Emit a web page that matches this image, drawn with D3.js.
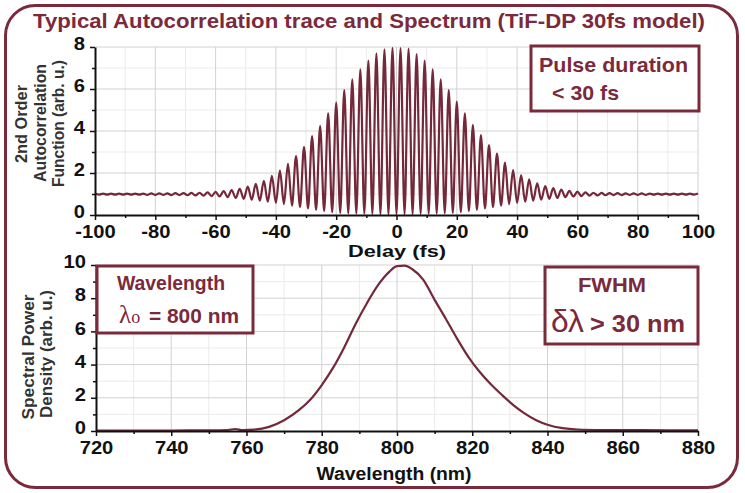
<!DOCTYPE html>
<html>
<head>
<meta charset="utf-8">
<script src="https://cdn.jsdelivr.net/npm/d3@7"></script>
<style>
  body { margin: 0; background: #fff; }
  text { font-family: "Liberation Sans", Arial, sans-serif; }
</style>
</head>
<body>
<div id="chart"></div>
<script>
// Autocorrelation trace: delay (fs) of each fringe peak / trough
var delay = [
  -100.0, -98.67, -97.33, -96.0, -94.67, -93.33, -92.0, -90.67, -89.33, -88.0,
  -86.67, -85.33, -84.0, -82.67, -81.33, -80.0, -78.67, -77.33, -76.0, -74.67,
  -73.33, -72.0, -70.67, -69.33, -68.0, -66.67, -65.33, -64.0, -62.67, -61.33,
  -60.0, -58.67, -57.33, -56.0, -54.67, -53.33, -52.0, -50.67, -49.33, -48.0,
  -46.67, -45.33, -44.0, -42.67, -41.33, -40.0, -38.67, -37.33, -36.0, -34.67,
  -33.33, -32.0, -30.67, -29.33, -28.0, -26.67, -25.33, -24.0, -22.67, -21.33,
  -20.0, -18.67, -17.33, -16.0, -14.67, -13.33, -12.0, -10.67, -9.33, -8.0,
  -6.67, -5.33, -4.0, -2.67, -1.33, 0.0, 1.33, 2.67, 4.0, 5.33,
  6.67, 8.0, 9.33, 10.67, 12.0, 13.33, 14.67, 16.0, 17.33, 18.67,
  20.0, 21.33, 22.67, 24.0, 25.33, 26.67, 28.0, 29.33, 30.67, 32.0,
  33.33, 34.67, 36.0, 37.33, 38.67, 40.0, 41.33, 42.67, 44.0, 45.33,
  46.67, 48.0, 49.33, 50.67, 52.0, 53.33, 54.67, 56.0, 57.33, 58.67,
  60.0, 61.33, 62.67, 64.0, 65.33, 66.67, 68.0, 69.33, 70.67, 72.0,
  73.33, 74.67, 76.0, 77.33, 78.67, 80.0, 81.33, 82.67, 84.0, 85.33,
  86.67, 88.0, 89.33, 90.67, 92.0, 93.33, 94.67, 96.0, 97.33, 98.67,
  100.0
];
var acf = [
  1.02, 0.97, 1.02, 0.97, 1.02, 0.97, 1.02, 0.97, 1.02, 0.97,
  1.02, 0.97, 1.02, 0.96, 1.03, 0.96, 1.03, 0.96, 1.03, 0.95,
  1.04, 0.95, 1.04, 0.94, 1.05, 0.93, 1.06, 0.92, 1.08, 0.90,
  1.10, 0.88, 1.14, 0.85, 1.19, 0.81, 1.25, 0.77, 1.35, 0.73,
  1.48, 0.68, 1.63, 0.63, 1.86, 0.58, 2.11, 0.52, 2.43, 0.45,
  2.81, 0.38, 3.25, 0.31, 3.76, 0.24, 4.24, 0.18, 4.84, 0.13,
  5.35, 0.10, 5.95, 0.08, 6.46, 0.07, 6.94, 0.06, 7.35, 0.05,
  7.70, 0.04, 7.89, 0.04, 7.96, 0.04, 7.95, 0.04, 7.92, 0.04,
  7.66, 0.05, 7.35, 0.06, 6.94, 0.07, 6.46, 0.08, 5.95, 0.10,
  5.40, 0.13, 4.84, 0.18, 4.29, 0.24, 3.81, 0.31, 3.33, 0.38,
  2.92, 0.45, 2.49, 0.52, 2.14, 0.58, 1.90, 0.63, 1.70, 0.68,
  1.51, 0.73, 1.38, 0.77, 1.28, 0.81, 1.21, 0.85, 1.15, 0.88,
  1.11, 0.90, 1.08, 0.92, 1.06, 0.93, 1.05, 0.94, 1.04, 0.95,
  1.04, 0.95, 1.03, 0.96, 1.03, 0.96, 1.03, 0.96, 1.02, 0.97,
  1.02, 0.97, 1.02, 0.97, 1.02, 0.97, 1.02, 0.97, 1.02, 0.97,
  1.02
];

// Spectrum
var wavelength = [720, 730, 740, 750, 755, 757, 759, 762, 766, 770, 774, 777, 780, 783, 786, 789, 792, 795, 798, 800,
  802, 804, 807, 810, 813, 816, 819, 822, 825, 828, 831, 834, 837, 840, 844, 848, 855, 865, 880];
var spectrum = [0.02, 0.02, 0.03, 0.04, 0.06, 0.12, 0.05, 0.08, 0.25, 0.65, 1.27, 1.90, 2.77, 3.80, 5.05, 6.45, 7.70, 8.80, 9.60, 9.93,
  9.96, 9.76, 9.10, 7.90, 6.75, 5.55, 4.45, 3.55, 2.80, 2.15, 1.55, 1.05, 0.65, 0.38, 0.17, 0.09, 0.06, 0.05, 0.04];

var delayTicks = [-100, -80, -60, -40, -20, 0, 20, 40, 60, 80, 100];
var delayMinor = [-90, -70, -50, -30, -10, 10, 30, 50, 70, 90];
var acfTicks = [0, 2, 4, 6, 8];
var acfMinor = [1, 3, 5, 7];
var wlTicks = [720, 740, 760, 780, 800, 820, 840, 860, 880];
var wlMinor = [730, 750, 770, 790, 810, 830, 850, 870];
var specTicks = [0, 2, 4, 6, 8, 10];
var specMinor = [1, 3, 5, 7, 9];

var W = 745, H = 493;
var maroon = "#7a2a3b";
var lineColor = "#74283a";

var svg = d3.select("#chart").append("svg")
    .attr("width", W)
    .attr("height", H);

// outer rounded frame
svg.append("rect")
    .attr("x", 5.5).attr("y", 5.5)
    .attr("width", 732).attr("height", 482)
    .attr("rx", 30).attr("ry", 30)
    .attr("fill", "#fff")
    .attr("stroke", maroon)
    .attr("stroke-width", 3);

svg.append("text")
    .attr("x", 369).attr("y", 28)
    .attr("text-anchor", "middle")
    .attr("font-size", 21).attr("font-weight", "bold")
    .attr("fill", maroon)
    .attr("textLength", 672).attr("lengthAdjust", "spacingAndGlyphs")
    .text("Typical Autocorrelation trace and Spectrum (TiF-DP 30fs model)");

// stretch tick labels a little wider, like the reference
function widen(sel, f) {
    sel.each(function () {
        this.setAttribute("textLength", this.getComputedTextLength() * f);
        this.setAttribute("lengthAdjust", "spacingAndGlyphs");
    });
}

function panel(x, y, xMajor, xMinorT, yMajor, yMinorT) {
    var g = svg.append("g");
    var x0 = x.range()[0], x1 = x.range()[1];
    var y0 = y.range()[0], y1 = y.range()[1];

    // grid
    g.selectAll(".gxm").data(xMinorT).enter().append("line")
        .attr("x1", d => x(d)).attr("x2", d => x(d))
        .attr("y1", y0).attr("y2", y1)
        .attr("stroke", "#ebebeb").attr("stroke-width", 1);
    g.selectAll(".gym").data(yMinorT).enter().append("line")
        .attr("x1", x0).attr("x2", x1)
        .attr("y1", d => y(d)).attr("y2", d => y(d))
        .attr("stroke", "#ebebeb").attr("stroke-width", 1);
    g.selectAll(".gx").data(xMajor.slice(1)).enter().append("line")
        .attr("x1", d => x(d)).attr("x2", d => x(d))
        .attr("y1", y0).attr("y2", y1)
        .attr("stroke", "#d2d2d2").attr("stroke-width", 1);
    g.selectAll(".gy").data(yMajor.slice(1)).enter().append("line")
        .attr("x1", x0).attr("x2", x1)
        .attr("y1", d => y(d)).attr("y2", d => y(d))
        .attr("stroke", "#d2d2d2").attr("stroke-width", 1);
    return g;
}

function axes(g, x, y, xMajor, xMinorT, yMajor, yMinorT) {
    var y0 = y.range()[0], x0 = x.range()[0];

    var xa = g.append("g").attr("transform", `translate(0,${y0})`)
        .call(d3.axisBottom(x).tickValues(xMajor).tickSize(5).tickSizeOuter(0).tickPadding(5)
            .tickFormat(d => String(d)));
    g.append("g").attr("transform", `translate(0,${y0})`)
        .call(d3.axisBottom(x).tickValues(xMinorT).tickSize(3).tickFormat(""))
        .select(".domain").remove();
    var ya = g.append("g").attr("transform", `translate(${x0},0)`)
        .call(d3.axisLeft(y).tickValues(yMajor).tickSize(5).tickSizeOuter(0).tickPadding(5)
            .tickFormat(d => String(d)));
    g.append("g").attr("transform", `translate(${x0},0)`)
        .call(d3.axisLeft(y).tickValues(yMinorT).tickSize(3).tickFormat(""))
        .select(".domain").remove();

    g.selectAll(".domain").attr("stroke", "#111").attr("stroke-width", 2);
    g.selectAll(".tick line").attr("stroke", "#111").attr("stroke-width", 1.5);
    g.selectAll(".tick text")
        .attr("font-family", "'Liberation Sans', Arial, sans-serif")
        .attr("font-size", 18).attr("font-weight", "bold").attr("fill", "#111");
    ya.selectAll("text").attr("dy", "0.15em");
    widen(xa.selectAll("text"), 1.12);
    widen(ya.selectAll("text"), 1.12);
}

// ---- top: autocorrelation ----
var xTop = d3.scaleLinear().domain([-100, 100]).range([95, 698]);
var yTop = d3.scaleLinear().domain([0, 8]).range([215, 47]);
var gTop = panel(xTop, yTop, delayTicks, delayMinor, acfTicks, acfMinor);

var acfData = delay.map((d, i) => [d, acf[i]]);
gTop.append("path")
    .datum(acfData)
    .attr("fill", "none")
    .attr("stroke", lineColor)
    .attr("stroke-width", 2.2)
    .attr("d", d3.line().x(d => xTop(d[0])).y(d => yTop(d[1])).curve(d3.curveMonotoneX));

axes(gTop, xTop, yTop, delayTicks, delayMinor, acfTicks, acfMinor);

// ---- bottom: spectrum ----
var xBot = d3.scaleLinear().domain([720, 880]).range([96, 698]);
var yBot = d3.scaleLinear().domain([0, 10]).range([431, 265]);
var gBot = panel(xBot, yBot, wlTicks, wlMinor, specTicks, specMinor);

var specData = wavelength.map((d, i) => [d, spectrum[i]]);
gBot.append("path")
    .datum(specData)
    .attr("fill", "none")
    .attr("stroke", lineColor)
    .attr("stroke-width", 2.2)
    .attr("d", d3.line().x(d => xBot(d[0])).y(d => yBot(d[1])).curve(d3.curveMonotoneX));

axes(gBot, xBot, yBot, wlTicks, wlMinor, specTicks, specMinor);

// axis titles
function title(x, y, str, size, rot, len) {
    var t = svg.append("text")
        .attr("transform", `translate(${x},${y})` + (rot ? " rotate(-90)" : ""))
        .attr("text-anchor", "middle")
        .attr("font-size", size).attr("font-weight", "bold")
        .attr("fill", rot ? "#333" : "#111")
        .text(str);
    if (len) t.attr("textLength", len).attr("lengthAdjust", "spacingAndGlyphs");
    return t;
}
title(27, 124, "2nd Order", 16.5, true, 78);
title(45.5, 123, "Autocorrelation", 16.5, true, 118);
title(64, 123.5, "Function (arb. u.)", 16.5, true, 127);
title(33.5, 357, "Spectral Power", 16.5, true, 125);
title(51.5, 354, "Density (arb. u.)", 16.5, true, 128);
title(397, 257, "Delay (fs)", 16.5, false, 98);
title(394, 480, "Wavelength (nm)", 17.5, false, 155);

// annotation boxes
function box(x, y, w, h) {
    svg.append("rect")
        .attr("x", x).attr("y", y).attr("width", w).attr("height", h)
        .attr("fill", "#fff")
        .attr("stroke", maroon).attr("stroke-width", 3);
}
function note(x, y, size, str, len) {
    var t = svg.append("text")
        .attr("x", x).attr("y", y)
        .attr("font-size", size).attr("font-weight", "bold")
        .attr("fill", maroon)
        .text(str);
    if (len) t.attr("textLength", len).attr("lengthAdjust", "spacingAndGlyphs");
    return t;
}

box(531, 46, 168, 65);
note(539, 72, 21, "Pulse duration", 149);
note(552, 100, 21, "< 30 fs", 67);

box(97, 266, 156, 67);
note(117, 290, 19.5, "Wavelength", 108);
var lam = svg.append("text").attr("x", 119).attr("y", 323).attr("fill", maroon);
lam.append("tspan")
    .attr("font-family", "'Liberation Serif', 'DejaVu Serif', serif")
    .attr("font-size", 25).text("λ");
lam.append("tspan")
    .attr("font-family", "'Liberation Serif', 'DejaVu Serif', serif")
    .attr("font-size", 18).text("o");
note(149, 323, 21, "= 800 nm", 90);

box(545, 267, 153, 77);
note(578, 292, 21, "FWHM", 68);
svg.append("text").attr("x", 551).attr("y", 332)
    .attr("font-family", "'Liberation Serif', 'DejaVu Serif', serif")
    .attr("font-size", 32).attr("fill", maroon)
    .attr("textLength", 33).attr("lengthAdjust", "spacingAndGlyphs")
    .text("δλ");
note(590, 332, 23, "> 30 nm", 95);
</script>
</body>
</html>
